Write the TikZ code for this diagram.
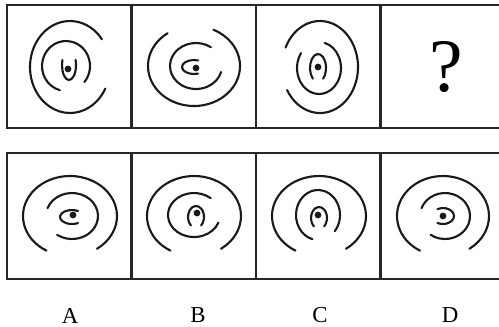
\documentclass[tikz,border=0pt]{standalone}
\usepackage{fontspec}
\setmainfont{Liberation Serif}
\tikzset{curl/.style={line width=1.2pt, line cap=round, draw=black!90},
 panel/.style={line width=1.3pt, draw=black!85},
 choice/.style={inner sep=0pt, font=\fontsize{13}{15}\selectfont}
}

\begin{document}
\begin{tikzpicture}[x={(0.02cm,0)}, y={(0,-0.02cm)}]

\useasboundingbox (0,0) rectangle (499,326);
\clip (0,0) rectangle (499,326);

\foreach \x in {7,131.5,256,380.5}{
  \draw [panel] (\x,5) rectangle +(124.5,123);
  \draw [panel] (\x,153) rectangle +(124.5,126);
}

% centre / radii / start and end angle (y runs down)
\foreach \cx/\cy/\rx/\ry/\a/\b in 
  {70/67/40/46/-37/-332, 66/66/24/25/105/400, 69/65/7/15/340/560,
  194/66/46/40/235/-65, 196/66/26/23/-55/-345, 194/67/12/7/-70/-290,
  320/67/38/46/205/510, 319/68/22/26/215/-75, 318/68/8/14/130/410,
  70/216/47/40/120/415, 72/216/26/23/200/485, 72/217/12/7/-60/-300,
  194/216/47/40/120/415, 194/215/26/22/-50/-340, 196/217/8/11/130/410,
  319/216/47/40/120/415, 318/215/22/25/105/400, 319/218/8/11/130/410,
  443/216/46/40/120/415, 445/216/25/23/200/485, 443/216/11/8/240/480}
\draw [curl] (\cx,\cy) ++({\rx*cos(\a)},{\ry*sin(\a)})
  arc [start angle=\a, end angle=\b, x radius=\rx, y radius=\ry];

\foreach \x/\y in {68/69, 196/68, 318/67, 73/215, 197/213, 318/215, 443/216}
\fill [black!90] (\x,\y) circle [radius=3.4];

\node [inner sep=0pt, font=\fontsize{43}{43}\selectfont] (qmark) at (446,67.5) {?};
\foreach \l/\x in {A/70, B/198, C/320, D/450}
\node [choice] (lab\l) at (\x,315.5) {\l};
\end{tikzpicture}
\end{document}
